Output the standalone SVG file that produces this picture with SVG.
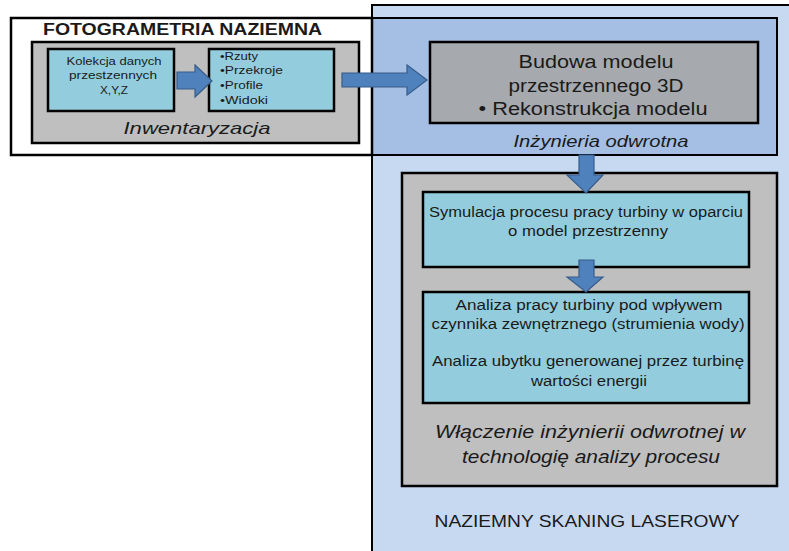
<svg xmlns="http://www.w3.org/2000/svg" width="789" height="551" viewBox="0 0 789 551">
<style>
.t{font-family:"Liberation Sans",Arial,sans-serif;fill:#1a1a1a;}
.i{font-style:italic;}
.box{stroke:#000;stroke-width:2.5;}
.cy{fill:#93cddd;}
.gr{fill:#bfbfbf;}
.arr{fill:#4f81bd;stroke:#385d8a;stroke-width:1.2;}
</style>
<rect width="789" height="551" fill="#ffffff"/>
<g id="skaning">
<rect x="372" y="5" width="430" height="560" fill="#c6d9f1" stroke="#000" stroke-width="2"/>
<text class="t" x="587" y="527" font-size="17" text-anchor="middle" textLength="305" lengthAdjust="spacingAndGlyphs">NAZIEMNY SKANING LASEROWY</text>
</g>
<g id="inzynieria">
<rect x="372" y="18" width="405" height="137" fill="#a4bfe3" stroke="#000" stroke-width="2"/>
<text class="t i" x="601" y="147" font-size="17" text-anchor="middle" textLength="175" lengthAdjust="spacingAndGlyphs">Inżynieria odwrotna</text>
</g>
<g id="fotogrametria">
<rect x="11" y="18" width="361" height="137" fill="none" stroke="#000" stroke-width="2.5"/>
<text class="t" x="43" y="35" font-size="16" font-weight="bold" textLength="279" lengthAdjust="spacingAndGlyphs">FOTOGRAMETRIA NAZIEMNA</text>
</g>
<g id="inwentaryzacja">
<rect class="box gr" x="32" y="42" width="327" height="101"/>
<text class="t i" x="197" y="134" font-size="17" text-anchor="middle" textLength="147" lengthAdjust="spacingAndGlyphs">Inwentaryzacja</text>
</g>
<g id="kolekcja">
<rect class="box cy" x="48" y="49" width="126" height="62"/>
<text class="t" x="114" y="65" font-size="11" text-anchor="middle" textLength="95" lengthAdjust="spacingAndGlyphs">Kolekcja danych</text>
<text class="t" x="113" y="79" font-size="11" text-anchor="middle" textLength="88" lengthAdjust="spacingAndGlyphs">przestzennych</text>
<text class="t" x="114" y="94" font-size="11" text-anchor="middle" textLength="28" lengthAdjust="spacingAndGlyphs">X,Y,Z</text>
</g>
<g id="rzuty">
<rect class="box cy" x="209" y="49" width="125" height="62"/>
<text class="t" x="220" y="60" font-size="11.5" textLength="38" lengthAdjust="spacingAndGlyphs">•Rzuty</text>
<text class="t" x="220" y="74" font-size="11.5" textLength="63" lengthAdjust="spacingAndGlyphs">•Przekroje</text>
<text class="t" x="220" y="89" font-size="11.5" textLength="43" lengthAdjust="spacingAndGlyphs">•Profile</text>
<text class="t" x="220" y="104" font-size="11.5" textLength="48" lengthAdjust="spacingAndGlyphs">•Widoki</text>
</g>
<g id="budowa">
<rect class="box" x="430" y="42" width="328" height="81" fill="#a6a9ad"/>
<text class="t" x="596" y="68" font-size="18" text-anchor="middle" textLength="155" lengthAdjust="spacingAndGlyphs">Budowa modelu</text>
<text class="t" x="596" y="92" font-size="18" text-anchor="middle" textLength="175" lengthAdjust="spacingAndGlyphs">przestrzennego 3D</text>
<text class="t" x="593" y="115" font-size="18" text-anchor="middle" textLength="229" lengthAdjust="spacingAndGlyphs">• Rekonstrukcja modelu</text>
</g>
<g id="proces">
<rect class="box gr" x="402" y="173" width="375" height="313"/>
<text class="t i" x="590" y="438" font-size="19" text-anchor="middle" textLength="310" lengthAdjust="spacingAndGlyphs">Włączenie inżynierii odwrotnej w</text>
<text class="t i" x="591" y="463" font-size="19" text-anchor="middle" textLength="258" lengthAdjust="spacingAndGlyphs">technologię analizy procesu</text>
</g>
<g id="symulacja">
<rect class="box cy" x="423" y="192" width="326" height="75"/>
<text class="t" x="586" y="217" font-size="14" text-anchor="middle" textLength="314" lengthAdjust="spacingAndGlyphs">Symulacja procesu pracy turbiny w oparciu</text>
<text class="t" x="588" y="236" font-size="14" text-anchor="middle" textLength="160" lengthAdjust="spacingAndGlyphs">o model przestrzenny</text>
</g>
<g id="analiza">
<rect class="box cy" x="423" y="292" width="326" height="111"/>
<text class="t" x="589" y="310" font-size="14" text-anchor="middle" textLength="267" lengthAdjust="spacingAndGlyphs">Analiza pracy turbiny pod wpływem</text>
<text class="t" x="588" y="329" font-size="14" text-anchor="middle" textLength="313" lengthAdjust="spacingAndGlyphs">czynnika zewnętrznego (strumienia wody)</text>
<text class="t" x="588" y="366" font-size="14" text-anchor="middle" textLength="312" lengthAdjust="spacingAndGlyphs">Analiza ubytku generowanej przez turbinę</text>
<text class="t" x="589" y="386" font-size="14" text-anchor="middle" textLength="116" lengthAdjust="spacingAndGlyphs">wartości energii</text>
</g>
<g id="connectors">
<polygon class="arr" points="177,72 195,72 195,65 212,81 195,97 195,89 177,89"/>
<polygon class="arr" points="342,73 407,73 407,65 427,80 407,95 407,87 342,87"/>
<polygon class="arr" points="579,155 594,155 594,175 603,175 586,193 567,175 579,175"/>
<polygon class="arr" points="579,260 594,260 594,277 603,277 586,292 567,277 579,277"/>
</g>
</svg>
